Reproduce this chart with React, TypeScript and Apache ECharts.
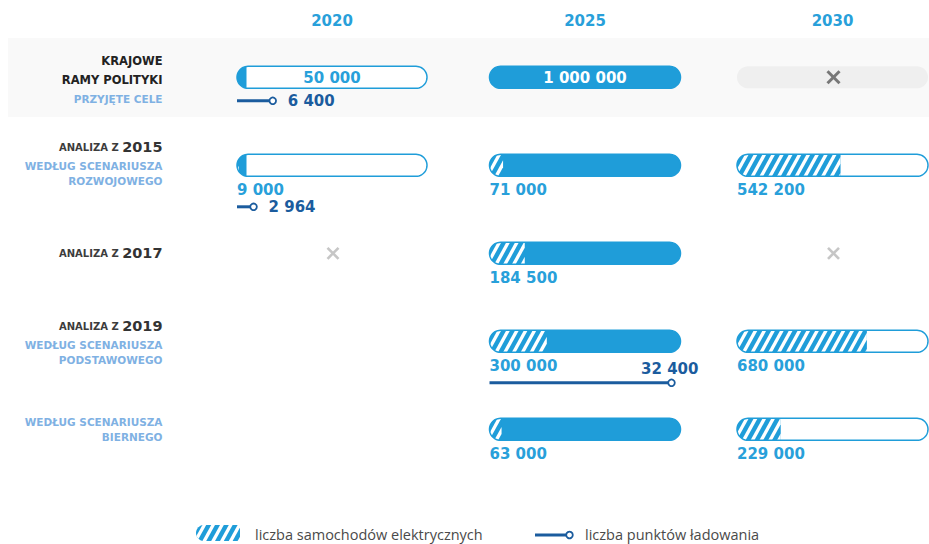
import React, { useEffect, useRef } from "react";
import * as echarts from "echarts";

// ---------- data ----------
const years = ["2020", "2025", "2030"];
const rowTitles = ["KRAJOWE\nRAMY POLITYKI", "ANALIZA Z 2015", "ANALIZA Z 2017", "ANALIZA Z 2019", ""];
const rowSubtitles = [
  "PRZYJĘTE CELE",
  "WEDŁUG SCENARIUSZA\nROZWOJOWEGO",
  "",
  "WEDŁUG SCENARIUSZA\nPODSTAWOWEGO",
  "WEDŁUG SCENARIUSZA\nBIERNEGO",
];

// null = brak danych (×), undefined = nie dotyczy (puste pole)
const targetCars = [50000, 1000000, null];
const cars2015 = [9000, 71000, 542200];
const cars2017 = [null, 184500, null];
const cars2019Base = [undefined, 300000, 680000];
const cars2019Passive = [undefined, 63000, 229000];

const chargingTarget = [6400, undefined, undefined];
const charging2015 = [2964, undefined, undefined];
const charging2019Base = [undefined, 32400, undefined];

const legendLabels = ["liczba samochodów elektrycznych", "liczba punktów ładowania"];

const CAR_MAX = 1000000;
const CHARGE_MAX = 34000;

const carRows: any[][] = [targetCars, cars2015, cars2017, cars2019Base, cars2019Passive];
const chargingRows: any[][] = [chargingTarget, charging2015, [], charging2019Base, []];

// ---------- style ----------
const FONT = "DejaVu Sans";
const BLUE = "#1f9dd9";
const LABEL_BLUE = "#28a0da";
const DARK = "#1b5c9e";
const LIGHT = "#7fb1e3";
const BAND = "#f9f9f9";
const PILL_GRAY = "#efefef";
const R = 11;
const HATCH_PERIOD = 8.8;
const HATCH_WHITE = 3.8;
const HATCH_SLANT = 0.55;

const GRID_LEFT = [237, 489.5, 737];
const GRID_WIDTH = [190, 191, 191];
const GRID_TOP = 33.3;
const GRID_HEIGHT = 440;

type Pt = [number, number];

const fmt = (v: number) => String(v).replace(/\B(?=(\d{3})+(?!\d))/g, " ");

function pillPoints(xa: number, xb: number, yc: number, r: number, n = 24): Pt[] {
  const pts: Pt[] = [];
  for (let i = 0; i <= n; i++) {
    const t = -Math.PI / 2 + (Math.PI * i) / n;
    pts.push([xb - r + r * Math.cos(t), yc + r * Math.sin(t)]);
  }
  for (let i = 0; i <= n; i++) {
    const t = Math.PI / 2 + (Math.PI * i) / n;
    pts.push([xa + r + r * Math.cos(t), yc + r * Math.sin(t)]);
  }
  return pts;
}

function clipHalf(pts: Pt[], nx: number, ny: number, c: number): Pt[] {
  const out: Pt[] = [];
  for (let i = 0; i < pts.length; i++) {
    const p = pts[i];
    const q = pts[(i + 1) % pts.length];
    const fp = nx * p[0] + ny * p[1] - c;
    const fq = nx * q[0] + ny * q[1] - c;
    if (fp >= 0) out.push(p);
    if (fp >= 0 !== fq >= 0) {
      const t = fp / (fp - fq);
      out.push([p[0] + t * (q[0] - p[0]), p[1] + t * (q[1] - p[1])]);
    }
  }
  return out;
}

function clipX(pts: Pt[], x0: number, x1: number): Pt[] {
  return clipHalf(clipHalf(pts, 1, 0, x0), -1, 0, -x1);
}

function clipConvex(subject: Pt[], clip: Pt[]): Pt[] {
  let area = 0;
  for (let i = 0; i < clip.length; i++) {
    const a = clip[i];
    const b = clip[(i + 1) % clip.length];
    area += a[0] * b[1] - b[0] * a[1];
  }
  const s = area > 0 ? 1 : -1;
  let out = subject;
  for (let i = 0; i < clip.length; i++) {
    const a = clip[i];
    const b = clip[(i + 1) % clip.length];
    const dx = b[0] - a[0];
    const dy = b[1] - a[1];
    if (Math.hypot(dx, dy) < 1e-9) continue;
    const nx = -dy * s;
    const ny = dx * s;
    out = clipHalf(out, nx, ny, nx * a[0] + ny * a[1]);
    if (out.length < 3) return [];
  }
  return out;
}

function stripes(region: Pt[], xStart: number, xEnd: number, yc: number, r: number, fill: string) {
  const out: any[] = [];
  const yb = yc + r + 2;
  const yt = yc - r - 2;
  for (let c = xStart - HATCH_PERIOD * 4 + 2; c < xEnd + HATCH_PERIOD * 2; c += HATCH_PERIOD) {
    const poly: Pt[] = [
      [c - HATCH_SLANT * (yb - yc), yb],
      [c + HATCH_WHITE - HATCH_SLANT * (yb - yc), yb],
      [c + HATCH_WHITE - HATCH_SLANT * (yt - yc), yt],
      [c - HATCH_SLANT * (yt - yc), yt],
    ];
    const clipped = clipConvex(poly, region);
    if (clipped.length >= 3) out.push({ type: "polygon", shape: { points: clipped }, style: { fill } });
  }
  return out;
}

function cross(cx: number, cy: number, h: number, lw: number, color: string) {
  return [
    { type: "line", shape: { x1: cx - h, y1: cy - h, x2: cx + h, y2: cy + h }, style: { stroke: color, lineWidth: lw } },
    { type: "line", shape: { x1: cx - h, y1: cy + h, x2: cx + h, y2: cy - h }, style: { stroke: color, lineWidth: lw } },
  ];
}

function txt(x: number, y: number, text: string, font: string, fill: string, align = "left") {
  return {
    type: "text",
    x,
    y,
    style: { text, font, fill, align, verticalAlign: "middle", textAlign: align, textVerticalAlign: "middle" },
  };
}

const renderCars = (g: number) => (params: any, api: any) => {
  const row = params.dataIndex;
  const v = carRows[row][g];
  const children: any[] = [];
  if (v === undefined) return { type: "group", children };
  const p0 = api.coord([0, row]);
  const x0 = p0[0];
  const yc = p0[1];
  const xFull = api.coord([CAR_MAX, row])[0];
  const cx = (x0 + xFull) / 2;
  const base = pillPoints(x0, xFull, yc, R);
  if (v === null) {
    if (row === 0) {
      children.push({ type: "polygon", shape: { points: base }, style: { fill: PILL_GRAY } });
      children.push(...cross(cx + 1, yc, 6, 3, "#777777"));
    } else {
      children.push(...cross(cx + 1, yc, 5.5, 2.6, "#c6c6c6"));
    }
    return { type: "group", children };
  }
  children.push({ type: "polygon", shape: { points: base }, style: { fill: "#ffffff" } });
  const target = row === 0 ? v : carRows[0][g] || 0;
  if (target > 0) {
    const xt = api.coord([Math.min(target, CAR_MAX), row])[0];
    const reg = target >= CAR_MAX ? base : clipX(base, x0 - 1, xt);
    children.push({ type: "polygon", shape: { points: reg }, style: { fill: BLUE } });
  }
  if (row !== 0) {
    const xv = api.coord([v, row])[0];
    const reg = clipX(base, x0 - 1, xv);
    children.push({ type: "polygon", shape: { points: reg }, style: { fill: BLUE } });
    children.push(...stripes(reg, x0, xv, yc, R, "#ffffff"));
  }
  children.push({ type: "polygon", shape: { points: base }, style: { fill: "none", stroke: BLUE, lineWidth: 1.5 } });
  if (row === 0) {
    children.push(txt(cx, yc + 1, fmt(v), `bold 15px "${FONT}"`, v >= CAR_MAX ? "#ffffff" : LABEL_BLUE, "center"));
  } else {
    children.push(txt(x0, yc + 25, fmt(v), `bold 15px "${FONT}"`, LABEL_BLUE, "left"));
  }
  return { type: "group", children };
};

const renderCharging = (g: number) => (params: any, api: any) => {
  const row = params.dataIndex;
  const v = chargingRows[row][g];
  const children: any[] = [];
  if (v == null) return { type: "group", children };
  const p0 = api.coord([0, row]);
  const x0 = p0[0];
  const yc = p0[1];
  const xv = api.coord([v, row])[0];
  const xEnd = api.coord([CHARGE_MAX, row])[0];
  const ly = yc + (row === 0 ? 23.5 : 41.5);
  children.push({ type: "line", shape: { x1: x0, y1: ly, x2: xv - 3, y2: ly }, style: { stroke: DARK, lineWidth: 3 } });
  children.push({ type: "circle", shape: { cx: xv, cy: ly, r: 3.3 }, style: { fill: "#ffffff", stroke: DARK, lineWidth: 1.8 } });
  const font = `bold 15px "${FONT}"`;
  if (xv - x0 > (xEnd - x0) / 2) {
    children.push(txt(xv + 27, ly - 14, fmt(v), font, DARK, "right"));
  } else {
    children.push(txt(xv + 15, ly, fmt(v), font, DARK, "left"));
  }
  return { type: "group", children };
};

function labelRich(i: number) {
  const lines: string[] = [];
  const title = rowTitles[i];
  const m = /^(.*?)\s(\d{4})$/.exec(title);
  if (m) lines.push(`{a|${m[1]} }{y|${m[2]}}`);
  else if (title) title.split("\n").forEach((t) => lines.push(`{t|${t}}`));
  if (rowSubtitles[i]) rowSubtitles[i].split("\n").forEach((s) => lines.push(`{${i === 0 ? "s1" : "s"}|${s}}`));
  if (i === 0) lines.unshift("{gapTop| }");
  if (i === 1) lines.push("{gapBot| }");
  return lines.join("\n");
}

function buildOption() {
  const grids = years.map((_, g) => ({ left: GRID_LEFT[g], top: GRID_TOP, width: GRID_WIDTH[g], height: GRID_HEIGHT }));
  const xAxes: any[] = [];
  years.forEach((y, g) => {
    xAxes.push({
      type: "value",
      gridIndex: g,
      min: 0,
      max: CAR_MAX,
      position: "top",
      name: y,
      nameLocation: "middle",
      nameGap: 12.5,
      nameTextStyle: { color: LABEL_BLUE, fontSize: 15, fontWeight: "bold", fontFamily: FONT, verticalAlign: "middle" },
      axisLine: { show: false },
      axisTick: { show: false },
      axisLabel: { show: false },
      splitLine: { show: false },
    });
    xAxes.push({ type: "value", gridIndex: g, min: 0, max: CHARGE_MAX, show: false });
  });
  const yAxes = years.map((_, g) => ({
    type: "category",
    gridIndex: g,
    inverse: true,
    data: rowTitles.map((_, i) => String(i)),
    show: g === 0,
    axisLine: { show: false },
    axisTick: { show: false },
    splitLine: { show: false },
    axisLabel:
      g === 0
        ? {
            show: true,
            interval: 0,
            margin: 74.5,
            formatter: (_v: any, idx: number) => labelRich(idx),
            rich: {
              t: { fontFamily: FONT, fontSize: 11.5, fontWeight: "bold", color: "#222222", lineHeight: 19 },
              s1: { fontFamily: FONT, fontSize: 10.5, fontWeight: "bold", color: LIGHT, lineHeight: 19 },
              a: { fontFamily: FONT, fontSize: 10, fontWeight: "bold", color: "#3c3c3c", lineHeight: 22 },
              y: { fontFamily: FONT, fontSize: 14.5, fontWeight: "bold", color: "#333333", lineHeight: 22 },
              s: { fontFamily: FONT, fontSize: 10.5, fontWeight: "bold", color: LIGHT, lineHeight: 15 },
              gapTop: { fontSize: 1, lineHeight: 6 },
              gapBot: { fontSize: 1, lineHeight: 6.5 },
            },
          }
        : { show: false },
  }));

  const series: any[] = [];
  const data = rowTitles.map((_, i) => [0, i]);
  years.forEach((_, g) => {
    series.push({ type: "custom", xAxisIndex: g * 2, yAxisIndex: g, data, encode: { x: 0, y: 1 }, renderItem: renderCars(g), silent: true, z: 2 });
    series.push({ type: "custom", xAxisIndex: g * 2 + 1, yAxisIndex: g, data, encode: { x: 0, y: 1 }, renderItem: renderCharging(g), silent: true, z: 3 });
  });

  const iconYc = 533;
  const iconR = 8;
  const iconRegion = clipX(pillPoints(196, 270, iconYc, iconR), 195, 240);
  const graphic = [
    { type: "rect", shape: { x: 8, y: 38, width: 921, height: 79 }, style: { fill: BAND }, z: -10 },
    { type: "polygon", shape: { points: iconRegion }, style: { fill: BLUE } },
    ...stripes(iconRegion, 196, 240, iconYc, iconR, "#ffffff"),
    { type: "text", x: 255, y: 534, style: { text: legendLabels[0], font: `14.5px "Open Sans"`, fill: "#4a4a4a", verticalAlign: "middle", textVerticalAlign: "middle" } },
    { type: "line", shape: { x1: 535, y1: 535, x2: 566.5, y2: 535 }, style: { stroke: DARK, lineWidth: 3 } },
    { type: "circle", shape: { cx: 569.5, cy: 535, r: 3.3 }, style: { fill: "#ffffff", stroke: DARK, lineWidth: 1.8 } },
    { type: "text", x: 585, y: 534, style: { text: legendLabels[1], font: `14.5px "Open Sans"`, fill: "#4a4a4a", verticalAlign: "middle", textVerticalAlign: "middle" } },
  ];

  return {
    animation: false,
    backgroundColor: "#ffffff",
    grid: grids,
    xAxis: xAxes,
    yAxis: yAxes,
    series,
    graphic: { elements: graphic },
  };
}

export default function App() {
  const ref = useRef<HTMLDivElement>(null);
  useEffect(() => {
    document.body.style.margin = "0";
    const chart = echarts.init(ref.current as HTMLDivElement, undefined, { renderer: "svg" });
    chart.setOption(buildOption() as any);
    return () => chart.dispose();
  }, []);
  return <div ref={ref} style={{ width: 929, height: 544 }} />;
}
